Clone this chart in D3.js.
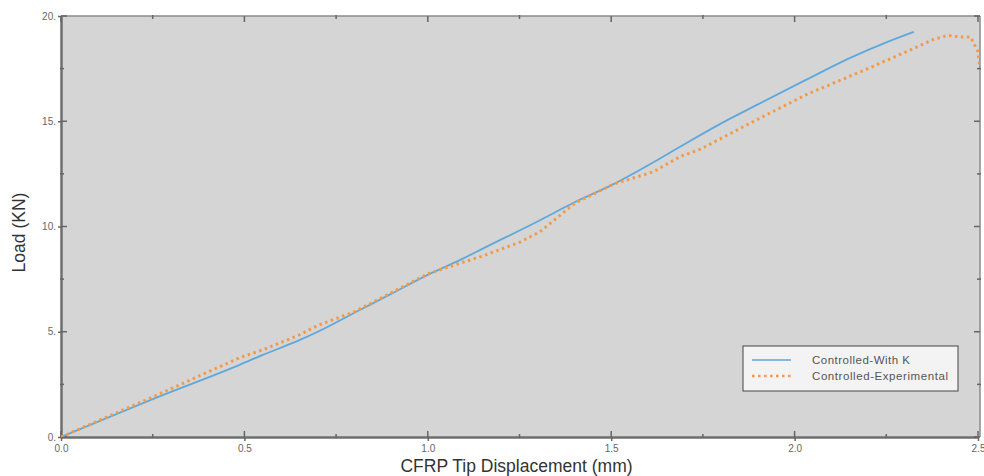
<!DOCTYPE html>
<html><head><meta charset="utf-8">
<script src="https://cdn.jsdelivr.net/npm/d3@7"></script>
<style>body{margin:0;background:#fff;}svg{display:block;font-family:"Liberation Sans",Arial,sans-serif;}</style>
</head><body>
<svg id="c" width="984" height="476"></svg>
<script>
const seriesNames = ["Controlled-With K", "Controlled-Experimental"];
const blueX = [0, 0.25, 0.49, 0.55, 0.65, 0.7, 0.8, 0.9, 1.0, 1.087, 1.15, 1.306, 1.4, 1.505, 1.615, 1.689, 1.8, 1.9, 2.035, 2.15, 2.25, 2.325];
const blueY = [0, 1.8, 3.45, 3.9, 4.6, 5.0, 5.9, 6.8, 7.7, 8.4, 8.95, 10.3, 11.15, 12.0, 13.05, 13.8, 14.9, 15.8, 17.0, 18.0, 18.75, 19.25];
const orangeX = [0, 0.25, 0.486, 0.55, 0.65, 0.7, 0.8, 0.9, 1.0, 1.087, 1.15, 1.25, 1.306, 1.4, 1.505, 1.615, 1.689, 1.743, 1.9, 2.035, 2.2, 2.33, 2.38, 2.418, 2.45, 2.48, 2.5, 2.505];
const orangeY = [0, 1.9, 3.76, 4.14, 4.85, 5.3, 5.95, 6.85, 7.75, 8.25, 8.6, 9.25, 9.75, 11.1, 12.0, 12.6, 13.33, 13.67, 15.1, 16.29, 17.5, 18.5, 18.9, 19.08, 19.0, 19.0, 18.3, 17.6];
const xTicks = [0, 0.5, 1.0, 1.5, 2.0, 2.5];
const xMinor = [0.25, 0.75, 1.25, 1.75, 2.25];
const yTicks = [0, 5, 10, 15, 20];
const yMinor = [2.5, 7.5, 12.5, 17.5];

const svg = d3.select("#c");
const L = 61, R = 978, T = 16, B = 437;
const x = d3.scaleLinear().domain([0, 2.5]).range([L, R]);
const y = d3.scaleLinear().domain([0, 20]).range([B, T]);

svg.append("defs").append("clipPath").attr("id","clip")
  .append("rect").attr("x",L).attr("y",T).attr("width",R-L+2).attr("height",B-T);

svg.append("rect").attr("x",L).attr("y",T).attr("width",R-L+2).attr("height",B-T).attr("fill","#d5d5d5");

svg.append("line").attr("x1",L).attr("x2",R+2).attr("y1",T).attr("y2",T).attr("stroke","#8a8a8a").attr("stroke-width",1.5);
svg.append("line").attr("x1",R+2).attr("x2",R+2).attr("y1",T).attr("y2",B).attr("stroke","#8a8a8a").attr("stroke-width",1.5);

const bx = svg.append("g").attr("transform",`translate(0,${B})`)
  .call(d3.axisBottom(x).tickValues(xTicks).tickFormat(d3.format(".1f")).tickSizeInner(4).tickSizeOuter(0).tickPadding(4));
const by = svg.append("g").attr("transform",`translate(${L},0)`)
  .call(d3.axisLeft(y).tickValues(yTicks).tickFormat(d=>d+".").tickSizeInner(3).tickSizeOuter(0).tickPadding(2));
[bx,by].forEach(g=>{
  g.select(".domain").attr("stroke","#6e6e6e").attr("stroke-width",2.5);
  g.selectAll(".tick line").attr("stroke","#666").attr("stroke-width",1.5);
  g.selectAll(".tick text").attr("fill","#666").attr("font-size",10);
});
const tk = svg.append("g").attr("stroke","#666").attr("stroke-width",1.5);
xTicks.forEach(v=>{
  tk.append("line").attr("x1",x(v)).attr("x2",x(v)).attr("y1",B).attr("y2",B-6);
  tk.append("line").attr("x1",x(v)).attr("x2",x(v)).attr("y1",T).attr("y2",T+6);
});
xMinor.forEach(v=>{
  tk.append("line").attr("x1",x(v)).attr("x2",x(v)).attr("y1",B+1).attr("y2",B-3);
  tk.append("line").attr("x1",x(v)).attr("x2",x(v)).attr("y1",T-1).attr("y2",T+3);
});
yTicks.forEach(v=>{
  tk.append("line").attr("x1",L).attr("x2",L+6).attr("y1",y(v)).attr("y2",y(v));
  tk.append("line").attr("x1",R+2).attr("x2",R-4).attr("y1",y(v)).attr("y2",y(v));
});
yMinor.forEach(v=>{
  tk.append("line").attr("x1",L-1).attr("x2",L+3).attr("y1",y(v)).attr("y2",y(v));
  tk.append("line").attr("x1",R+3).attr("x2",R-1).attr("y1",y(v)).attr("y2",y(v));
});

const line = d3.line().x(d=>x(d[0])).y(d=>y(d[1])).curve(d3.curveMonotoneX);
const blue = blueX.map((v,i)=>[v,blueY[i]]);
const orange = orangeX.map((v,i)=>[v,orangeY[i]]);
const pg = svg.append("g").attr("clip-path","url(#clip)");
pg.append("path").datum(blue).attr("d",line).attr("fill","none").attr("stroke","#5fa8dc").attr("stroke-width",1.8);
pg.append("path").datum(orange).attr("d",d3.line().x(d=>x(d[0])).y(d=>y(d[1])).curve(d3.curveLinear)).attr("fill","none").attr("stroke","#f39a48").attr("stroke-width",3).attr("stroke-dasharray","2.5,3.5");

const lg = svg.append("g");
lg.append("rect").attr("x",743).attr("y",346).attr("width",215).attr("height",45).attr("fill","#f3f3f3").attr("stroke","#444").attr("stroke-width",1);
lg.append("line").attr("x1",752).attr("x2",791).attr("y1",360).attr("y2",360).attr("stroke","#5fa8dc").attr("stroke-width",1.5);
lg.append("line").attr("x1",752).attr("x2",791).attr("y1",376).attr("y2",376).attr("stroke","#f39a48").attr("stroke-width",2.5).attr("stroke-dasharray","2.5,3.5");
lg.append("text").attr("x",812).attr("y",364).attr("font-size",11.5).attr("fill","#555").attr("textLength",98).text(seriesNames[0]);
lg.append("text").attr("x",812).attr("y",380).attr("font-size",11.5).attr("fill","#555").attr("textLength",136).text(seriesNames[1]);

svg.append("text").attr("x",(L+R)/2 - 3).attr("y",472).attr("text-anchor","middle").attr("font-size",17.5).attr("fill","#333").text("CFRP Tip Displacement (mm)");
svg.append("text").attr("transform",`translate(25,${(T+B)/2 + 6}) rotate(-90)`).attr("text-anchor","middle").attr("font-size",17.5).attr("fill","#333").text("Load (KN)");
</script>
</body></html>
